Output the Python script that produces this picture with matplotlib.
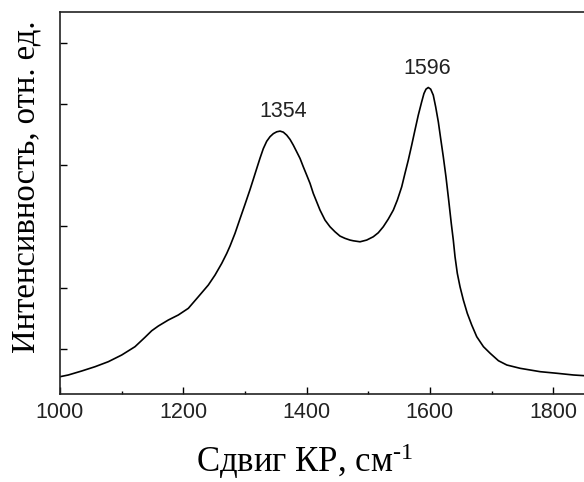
import matplotlib
matplotlib.use("Agg")
import matplotlib.pyplot as plt
from matplotlib.ticker import MultipleLocator

# Raman shift (cm^-1) and intensity (arb. units)
shift = [1000.0, 1013.5, 1035.2, 1056.8, 1078.4, 1100.1, 1121.7, 1137.9,
         1148.8, 1159.5, 1175.7, 1191.9, 1208.2, 1224.4, 1240.6, 1251.5,
         1262.4, 1270.5, 1275.8, 1283.9, 1292.0, 1300.1, 1308.2, 1313.6,
         1319.1, 1324.5, 1329.8, 1335.3, 1340.7, 1346.1, 1351.6, 1357.0,
         1362.3, 1367.8, 1373.2, 1378.5, 1384.0, 1389.4, 1394.7, 1400.2,
         1405.6, 1410.9, 1416.4, 1421.8, 1429.9, 1438.0, 1446.1, 1454.2,
         1462.3, 1470.4, 1475.9, 1486.7, 1497.5, 1508.2, 1516.3, 1524.4,
         1532.5, 1540.7, 1547.2, 1554.3, 1559.6, 1565.0, 1570.5, 1575.8,
         1581.2, 1586.7, 1590.4, 1593.7, 1597.4, 1601.3, 1605.5, 1609.4,
         1613.7, 1617.5, 1621.8, 1626.1, 1630.5, 1634.7, 1638.0, 1640.8,
         1644.5, 1648.9, 1654.3, 1660.7, 1667.9, 1676.0, 1686.9, 1697.8,
         1711.2, 1724.8, 1746.4, 1778.9, 1806.0, 1832.9, 1850.0]
intensity = [548, 576, 641, 711, 793, 902, 1038, 1191,
             1298, 1375, 1473, 1555, 1664, 1853, 2044, 2207,
             2398, 2560, 2680, 2887, 3125, 3360, 3600, 3770,
             3945, 4115, 4270, 4390, 4465, 4515, 4545, 4556,
             4539, 4490, 4420, 4327, 4218, 4110, 3973, 3838,
             3703, 3539, 3402, 3267, 3104, 2995, 2913, 2843,
             2806, 2778, 2766, 2750, 2778, 2832, 2897, 2995,
             3120, 3267, 3430, 3647, 3866, 4083, 4327, 4572,
             4817, 5034, 5170, 5241, 5268, 5241, 5143, 4952,
             4707, 4436, 4136, 3810, 3430, 3050, 2778, 2505,
             2235, 2016, 1799, 1582, 1391, 1201, 1038, 930,
             809, 739, 685, 630, 604, 576, 565]

peak_labels = ["1354", "1596"]
peak_x = [1362, 1595]
peak_y = [4880, 5575]

x_ticks = [1000, 1200, 1400, 1600, 1800]
y_ticks = [1000, 2000, 3000, 4000, 5000, 6000]

plt.rcParams["mathtext.default"] = "regular"

fig = plt.figure(figsize=(5.84, 4.82), dpi=100)
ax = fig.add_axes([0.1027, 0.1826, 0.8973, 0.7925])

ax.plot(shift, intensity, color="black", linewidth=1.2)

for label, px, py in zip(peak_labels, peak_x, peak_y):
    ax.text(px, py, label, ha="center", va="center", fontsize=15.5,
            family="Liberation Sans", color="#222222")

ax.set_xlim(1000, 1850)
ax.set_ylim(266, 6500)
ax.set_xticks(x_ticks)
ax.xaxis.set_minor_locator(MultipleLocator(100))
ax.set_yticks(y_ticks)
ax.set_yticklabels([])

ax.tick_params(axis="x", which="major", direction="in", length=5, width=1,
               pad=6, labelsize=15.5, labelcolor="#222222")
ax.tick_params(axis="x", which="minor", direction="in", length=2.5, width=1)
ax.tick_params(axis="y", direction="in", length=5, width=1)
for lab in ax.get_xticklabels():
    lab.set_family("Liberation Sans")

ax.spines["right"].set_visible(False)
for side in ("left", "top", "bottom"):
    ax.spines[side].set_linewidth(1.2)
    ax.spines[side].set_color("#222222")

# short hyphen in the superscript, as in the reference
ax.set_xlabel("Сдвиг КР, см$^{\u20101}$", family="Liberation Serif", fontsize=25)
ax.xaxis.label.set_va("baseline")
ax.xaxis.set_label_coords(0.4676, -0.205)

ax.set_ylabel("Интенсивность, отн. ед.", family="Liberation Serif",
              fontsize=23.5)
ax.yaxis.label.set_va("baseline")
ax.yaxis.set_label_coords(-0.048, 0.542)

fig.savefig("out.png", dpi=100)
plt.close(fig)
